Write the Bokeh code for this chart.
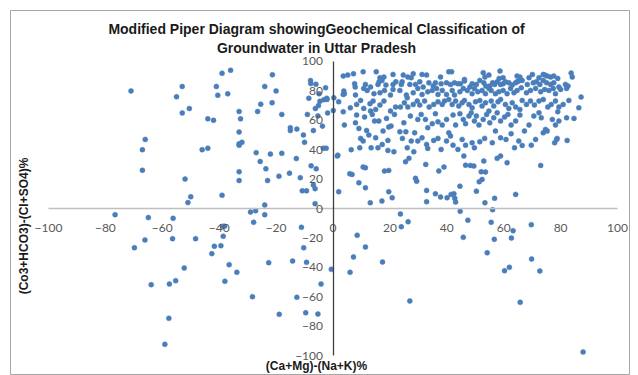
from bokeh.plotting import figure
from bokeh.models import Range1d, FixedTicker, Label
from bokeh.embed import file_html
from bokeh.resources import INLINE
import math

# ---------------- data ----------------
# upper-right quadrant, top band
ur_top = [(3.6,90.1),(5.2,90.8),(7.2,91.7),(10.6,93.0),(15.2,93.0),(16.5,89.0),(17.9,89.4),(21.1,91.2),
    (24.7,90.8),(26.3,89.4),(28.2,91.7),(31.3,91.2),(32.9,90.8),(37.8,89.4),(40.7,93.0),(41.7,93.0),
    (46.2,87.8),(52.8,92.4),(53.4,89.4),(58.7,93.5),(58.4,88.5),(59.8,89.0),(64.7,90.1),(65.7,89.4),
    (70.1,91.2),(73.9,91.2),(74.5,90.8),(76.5,89.4),(77.6,90.1),(79.0,88.5),(83.7,92.1),(84.1,89.4),
    (54.8,90.8),(64.7,86.2),
    (3.8,79.9),(4.0,78.1),(7.6,84.9),(7.8,82.6),(11.4,84.4),(13.2,82.6),(15.8,84.4),(16.2,86.2),(17.2,87.1),
    (18.6,84.0),(21.1,84.4),(22.1,86.2),(24.0,84.4),(24.3,86.2),(27.0,84.4),(27.5,89.0),(29.0,84.4),
    (30.5,86.2),(31.7,82.6),(33.7,85.5),(35.2,83.3),(36.0,85.5),(38.0,84.9),(39.9,85.5),(41.3,84.4),
    (42.7,85.5),(43.9,84.9),(44.8,84.9),(46.2,86.7),(48.1,82.6),(48.9,84.9),(50.4,84.4),(51.6,87.1),
    (53.0,85.5),(53.7,83.3),(55.1,83.3),(56.1,85.5),(56.8,84.4),(57.7,86.2),(58.9,84.4),(59.8,84.9),
    (60.6,86.2),(61.8,85.5),(63.0,84.0),(64.2,85.5),(65.3,86.7),(66.5,87.1),(68.3,84.4),(70.4,85.5),
    (71.5,86.2),(72.7,84.4),(73.9,87.1),(75.1,85.5),(76.5,84.4),(77.6,85.5),(79.4,82.6),(81.7,84.4),
    (82.6,83.3),(68.9,89.0),(72.4,89.0),(75.3,90.1)]

# upper-right quadrant, 65-82 band
ur_mid = [(-2.1,74.2),(-2.6,82.1),(0.3,75.3),(3.6,77.6),(7.9,77.2),(10.8,81.7),(12.0,80.3),(14.4,78.1),
    (16.5,78.7),(18.1,80.3),(20.2,77.2),(21.1,81.0),(23.5,80.3),(25.8,77.2),(26.1,75.3),(28.2,78.7),
    (29.8,81.7),(31.3,77.6),(33.3,79.4),(34.9,80.3),(36.4,81.7),(36.9,77.6),(38.4,80.3),(39.9,77.6),
    (41.9,80.3),(42.7,77.2),(44.6,79.4),(45.8,81.7),(47.2,80.3),(48.9,78.1),(49.7,81.7),(50.9,79.4),
    (52.4,80.3),(53.6,78.1),(54.8,81.7),(55.6,80.3),(57.1,78.1),(58.3,79.4),(59.8,80.3),(61.2,78.1),
    (62.4,81.7),(63.6,78.7),(64.7,80.3),(66.2,82.1),(68.0,78.7),(69.4,80.3),(71.2,81.7),(73.0,79.4),
    (74.4,81.0),(75.9,80.3),(77.4,81.7),(78.2,78.1),(80.0,81.0),(82.1,81.7),(87.2,75.8),
    (0.1,66.7),(2.0,72.6),(3.6,65.8),(6.1,68.5),(8.3,70.8),(9.7,73.5),(10.8,68.1),(13.0,71.3),(14.1,73.1),
    (15.0,67.4),(16.5,70.4),(17.9,73.1),(20.2,66.3),(22.0,69.0),(23.7,69.0),(25.1,71.9),(26.3,69.0),
    (28.2,70.8),(29.6,73.1),(30.5,70.4),(32.2,73.1),(33.8,69.0),(35.4,70.8),(36.9,72.6),(38.4,70.8),
    (39.2,73.1),(40.7,74.2),(41.9,70.8),(43.1,73.1),(44.2,69.7),(45.4,71.9),(46.2,73.5),(47.8,70.8),
    (48.9,68.5),(50.1,72.6),(51.6,73.5),(52.4,69.7),(53.6,71.9),(54.8,66.3),(55.6,73.1),(56.5,69.7),
    (58.0,72.6),(58.9,74.2),(60.6,70.8),(61.8,68.1),(63.0,71.9),(64.2,69.0),(65.7,67.4),(66.5,73.5),
    (68.0,70.8),(69.4,73.1),(70.8,70.4),(72.4,73.1),(73.9,74.2),(75.5,69.0),(76.7,70.8),(78.2,73.1),
    (79.4,69.0),(80.9,70.8),(82.9,73.5),(86.4,68.5),(79.0,65.8)]

# upper-right quadrant, 36-66 band
ur_low = [(4.0,56.8),(7.9,58.3),(8.3,63.6),(9.1,54.5),(9.7,47.7),(11.1,62.2),(13.2,66.3),(13.8,64.0),
    (14.6,59.5),(16.1,59.5),(17.6,52.7),(18.8,61.3),(19.6,55.4),(20.4,56.1),(21.6,64.0),(23.5,52.2),
    (24.9,58.3),(25.6,52.2),(27.2,62.9),(28.7,51.5),(29.8,60.6),(31.0,64.0),(32.5,60.6),(33.3,55.0),
    (34.9,57.7),(36.0,64.5),(36.9,59.0),(38.4,56.8),(39.9,60.6),(40.7,51.5),(42.2,63.6),(43.1,56.8),
    (44.6,64.5),(45.8,60.6),(46.6,57.7),(47.8,62.9),(48.6,65.1),(49.7,59.5),(50.4,62.9),(51.3,56.8),
    (52.8,60.6),(54.0,64.0),(55.1,58.3),(56.5,61.7),(57.7,65.1),(58.9,59.5),(60.3,62.2),(61.5,64.0),
    (62.6,56.8),(64.2,59.5),(65.7,63.6),(67.3,52.7),(68.9,56.8),(70.6,62.9),(72.4,65.1),(73.2,61.7),
    (74.7,53.8),(77.1,60.6),(78.2,56.8),(79.4,59.5),(82.1,61.7),(84.7,61.3),(73.9,51.5),(78.6,47.0),
    (82.3,46.3),
    (1.7,36.3),(6.4,40.0),(9.4,41.3),(10.6,45.9),(11.8,53.1),(12.6,50.0),(13.4,41.3),(15.0,48.1),
    (15.8,41.3),(17.3,43.6),(19.3,46.3),(19.3,39.5),(21.4,38.6),(24.4,47.7),(26.1,41.3),(27.5,45.9),
    (28.4,38.6),(29.8,45.9),(31.3,48.1),(32.9,43.6),(33.3,40.9),(35.4,46.3),(36.9,47.7),(38.0,40.2),
    (39.9,45.9),(41.3,49.3),(42.2,43.1),(43.9,40.2),(45.4,47.0),(46.6,43.1),(48.9,44.7),(49.7,41.3),
    (51.6,45.4),(53.3,47.7),(56.0,44.7),(57.1,52.7),(58.9,48.1),(60.8,47.0),(62.6,50.9),(63.8,41.3),
    (65.3,45.9),(66.5,42.9),(69.7,43.1),(71.2,47.0),(75.3,52.7),(77.9,44.7),(78.8,47.7)]

# upper-right quadrant, below 36
ur_base = [(1.5,35.7),(10.6,28.2),(11.4,27.7),(5.9,23.6),(6.7,23.2),(18.1,25.5),(19.6,25.9),(2.0,11.4),
    (9.1,17.5),(11.4,14.1),(13.1,3.9),(17.2,5.1),(19.6,11.4),(20.8,7.3),(25.5,31.8),(26.7,34.1),
    (29.0,20.5),(29.4,18.6),(32.6,30.0),(32.9,12.3),(32.9,4.6),(36.0,10.0),(37.2,25.5),(37.8,7.8),
    (39.0,28.2),(40.1,7.3),(41.5,9.6),(42.5,10.0),(42.8,6.9),(43.1,4.4),(44.6,15.2),(46.0,35.7),
    (46.6,29.5),(48.3,29.3),(49.5,28.9),(50.4,11.8),(51.4,18.2),(52.4,19.8),(53.0,32.3),(53.4,3.9),
    (53.6,24.8),(52.1,25.0),(56.8,6.9),(57.7,34.1),(58.9,35.7),(61.2,31.2),(64.2,9.6),(73.0,29.3)]

# upper-left quadrant
ul = [(-71,80),(-66,47),(-67,40),(-67,26),(-55,76),(-53,83),(-53,65),(-50.5,68),(-52,20),(-51,4),(-50,8),
    (-46,40),(-44,41),(-44,61),(-42,60),(-41,83),(-40.5,77),(-39,92),(-36,94),(-37,78),(-39,9),(-33,66),
    (-32.5,61),(-33,52),(-33,44),(-33,43),(-32,45),(-33,25),(-33,19),(-24,2.4),(-27,38),(-25.6,32),
    (-23.6,27),(-23,19),(-26.5,66),(-25.4,71),(-24,83),(-21.3,91),(-21.4,72),(-20,80),(-22,37),(-19,22),
    (-18,37.5),(-18,64),(-15,55),(-15,53),(-12.7,54),(-15.3,24),(-12.9,34),(-11.5,21),(-10.8,12),
    (-9.3,12),(-10.4,50),(-10,45),(-9,64),(-8.5,75),(-7.9,87),(-7.8,85),(-6,84.5),(-4.9,78),(-4.6,73),
    (-6.2,68),(-5.1,70),(-3.2,74),(-2.2,75),(-5.3,63),(-6.9,53),(-3.7,56),(-3.4,41),(-2.4,41),(-1.9,65),
    (-7.7,29),(-5.9,27),(-6.9,16),(-6.3,13.5),(-6.3,3.3)]

# lower-left quadrant
ll = [(-76.6,-4.2),(-69.8,-26.7),(-66.1,-21.4),(-64.9,-6.2),(-56.2,-6.7),(-56.4,-20.5),(-48.3,-20.5),
    (-52.3,-40.5),(-63.9,-51.8),(-57.5,-51.4),(-55.3,-49.1),(-57.7,-74.7),(-59.1,-92.4),(-41.7,-25.7),
    (-39.4,-25.3),(-42.6,-30.7),(-38.6,-18.9),(-38.8,-12.1),(-38.1,-12.1),(-36.5,-38.2),(-33.8,-43.4),
    (-38,-49.5),(-29,-2.4),(-27.2,-1.5),(-24,-4.2),(-27.9,-9.4),(-28.3,-60),(-22.6,-36.9),(-18.9,-72),
    (-14.2,-35.7),(-11.1,-12.8),(-10.3,-26.7),(-9.3,-36.6),(-12.7,-60.4),(-9.6,-70.9),(-5.3,-71.8),
    (-4.2,-51.4),(-0.6,-41.4)]

# lower-right quadrant
lr = [(23.7,-3.7),(24,-12.4),(26.4,-9),(8.5,-18.2),(11.4,-26.2),(7.2,-33),(17.4,-36.4),(6,-43.4),
    (27,-62.9),(44.7,-1.9),(47.4,-8),(45.8,-19.6),(56.1,-0.8),(55.6,-9.4),(54.2,-30.1),(56.7,-21),
    (63.3,-15.1),(62.7,-20.1),(60.3,-42.3),(62,-40),(65.8,-63.8),(69.7,-11),(69.8,-34.4),(72.7,-42.5),
    (87.9,-97.6)]

ticks = [-100, -80, -60, -40, -20, 0, 20, 40, 60, 80, 100]
title_lines = ["Modified Piper Diagram showingGeochemical Classification of",
               "Groundwater in Uttar Pradesh"]
x_title = "(Ca+Mg)-(Na+K)%"
y_title = "(Co3+HCO3)-(Cl+SO4)%"

pts = ur_top + ur_mid + ur_low + ur_base + ul + ll + lr
xs = [p[0] for p in pts]
ys = [p[1] for p in pts]

# ---------------- figure ----------------
p = figure(width=630, height=375, output_backend="svg", toolbar_location=None,
           x_range=Range1d(-113.36, 104.57), y_range=Range1d(-113.6, 134.69),
           min_border_left=10, min_border_top=10, min_border_right=0, min_border_bottom=0)
p.title.visible = False
p.outline_line_color = "#a6a6a6"
p.outline_line_width = 1
p.background_fill_color = "white"
p.border_fill_color = "white"
p.grid.visible = False

p.scatter(xs, ys, size=5, fill_color="#4a7ebb", line_color="#4a7ebb", line_width=0.5)

for ax, col, stand in ((p.xaxis[0], "#bfbfbf", 9), (p.yaxis[0], "#404040", 4)):
    ax.fixed_location = 0
    ax.bounds = (-100, 100)
    ax.ticker = FixedTicker(ticks=ticks)
    ax.axis_line_color = col
    ax.axis_line_width = 1.3
    ax.major_tick_line_color = None
    ax.minor_tick_line_color = None
    ax.major_label_text_font = "Lato"
    ax.major_label_text_font_size = "12px"
    ax.major_label_text_color = "#595959"
    ax.major_label_standoff = stand

for txt, yy in zip(title_lines, [121.8, 109.5]):
    p.add_layout(Label(x=-5.8, y=yy, text=txt, text_align="center", text_baseline="middle",
                       text_font="Liberation Sans", text_font_style="bold",
                       text_font_size="14px", text_color="#1a1a1a"))

p.add_layout(Label(x=-5.8, y=-107.0, text=x_title, text_align="center", text_baseline="middle",
                   text_font="Liberation Sans", text_font_style="bold",
                   text_font_size="12px", text_color="#1a1a1a"))
p.add_layout(Label(x=-108.6, y=-11.9, text=y_title, angle=math.pi / 2,
                   text_align="center", text_baseline="middle",
                   text_font="Liberation Sans", text_font_style="bold",
                   text_font_size="12px", text_color="#1a1a1a"))

open("out.html", "w").write(file_html(p, INLINE))
